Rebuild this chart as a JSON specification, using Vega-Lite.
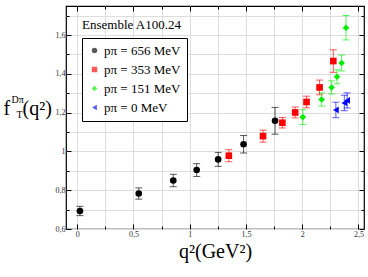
{
  "$schema": "https://vega.github.io/schema/vega-lite/v6.json",
  "width": 298,
  "height": 223,
  "autosize": "none",
  "padding": {"left": 66, "top": 6, "right": 4, "bottom": 48},
  "background": "white",
  "title": {"text": "Ensemble A100.24", "anchor": "start", "frame": "group", "font": "Liberation Serif", "fontSize": 13, "fontWeight": "normal", "color": "black", "dx": 16, "dy": 30},
  "data": {"values": [
    {"series": "pπ = 656 MeV", "q2": 0.024, "f": 0.693, "err": 0.024},
    {"series": "pπ = 656 MeV", "q2": 0.547, "f": 0.783, "err": 0.029},
    {"series": "pπ = 656 MeV", "q2": 0.854, "f": 0.85, "err": 0.032},
    {"series": "pπ = 656 MeV", "q2": 1.062, "f": 0.904, "err": 0.033},
    {"series": "pπ = 656 MeV", "q2": 1.253, "f": 0.959, "err": 0.036},
    {"series": "pπ = 656 MeV", "q2": 1.479, "f": 1.037, "err": 0.045},
    {"series": "pπ = 656 MeV", "q2": 1.759, "f": 1.158, "err": 0.069},
    {"series": "pπ = 353 MeV", "q2": 1.348, "f": 0.978, "err": 0.031},
    {"series": "pπ = 353 MeV", "q2": 1.652, "f": 1.079, "err": 0.031},
    {"series": "pπ = 353 MeV", "q2": 1.824, "f": 1.148, "err": 0.027},
    {"series": "pπ = 353 MeV", "q2": 1.938, "f": 1.201, "err": 0.028},
    {"series": "pπ = 353 MeV", "q2": 2.039, "f": 1.255, "err": 0.03},
    {"series": "pπ = 353 MeV", "q2": 2.155, "f": 1.33, "err": 0.038},
    {"series": "pπ = 353 MeV", "q2": 2.277, "f": 1.466, "err": 0.058},
    {"series": "pπ = 151 MeV", "q2": 2.006, "f": 1.177, "err": 0.038},
    {"series": "pπ = 151 MeV", "q2": 2.173, "f": 1.268, "err": 0.034},
    {"series": "pπ = 151 MeV", "q2": 2.262, "f": 1.33, "err": 0.034},
    {"series": "pπ = 151 MeV", "q2": 2.31, "f": 1.385, "err": 0.036},
    {"series": "pπ = 151 MeV", "q2": 2.351, "f": 1.456, "err": 0.041},
    {"series": "pπ = 151 MeV", "q2": 2.39, "f": 1.638, "err": 0.063},
    {"series": "pπ = 0 MeV", "q2": 2.3, "f": 1.214, "err": 0.04},
    {"series": "pπ = 0 MeV", "q2": 2.375, "f": 1.25, "err": 0.04},
    {"series": "pπ = 0 MeV", "q2": 2.4, "f": 1.263, "err": 0.039}
  ]},
  "layer": [
    {
      "mark": {"type": "errorbar", "ticks": {"size": 7, "opacity": 0.65}, "rule": {"opacity": 0.65}, "thickness": 1},
      "encoding": {
        "x": {"field": "q2", "type": "quantitative", "scale": {"domain": [-0.1, 2.55], "nice": false, "zero": false},
          "axis": {"orient": "bottom", "values": [0, 0.25, 0.5, 0.75, 1, 1.25, 1.5, 1.75, 2, 2.25, 2.5],
            "domain": false, "tickColor": "black", "tickSize": {"condition": {"test": "datum.value % 0.5 === 0", "value": -5}, "value": -3},
            "labelExpr": "datum.value % 0.5 === 0 ? replace(format(datum.value, '~g'), '.', ',') : ''",
            "labelFont": "Liberation Serif", "labelFontSize": 8, "labelColor": "#333", "labelPadding": 6,
            "title": "q²(GeV²)", "titleFont": "Liberation Serif", "titleFontSize": 20, "titleFontWeight": "normal", "titleColor": "black", "titlePadding": 3}},
        "y": {"field": "f", "type": "quantitative", "scale": {"domain": [0.6, 1.75], "nice": false, "zero": false},
          "axis": {"orient": "left", "values": [0.6, 0.7, 0.8, 0.9, 1, 1.1, 1.2, 1.3, 1.4, 1.5, 1.6, 1.7],
            "domain": false, "tickColor": "black", "tickSize": {"condition": {"test": "abs(round(datum.value*10)) % 2 === 0", "value": -5}, "value": -3},
            "labelExpr": "abs(round(datum.value*10)) % 2 === 0 ? replace(format(datum.value, '~g'), '.', ',') : ''",
            "labelFont": "Liberation Serif", "labelFontSize": 8, "labelColor": "#333", "labelPadding": 6,
            "title": "f", "titleAngle": 0, "titleAlign": "left", "titleBaseline": "alphabetic",
            "titleX": -63, "titleY": 108, "titleFont": "Liberation Serif", "titleFontSize": 20, "titleFontWeight": "normal", "titleColor": "black"}},
        "yError": {"field": "err"},
        "color": {"field": "series", "type": "nominal"}
      }
    },
    {
      "mark": {"type": "point", "filled": true, "opacity": 1},
      "encoding": {
        "x": {"field": "q2", "type": "quantitative",
          "axis": {"orient": "top", "values": [0, 0.25, 0.5, 0.75, 1, 1.25, 1.5, 1.75, 2, 2.25, 2.5], "domain": false, "labels": false, "title": null,
            "tickColor": "black", "tickSize": {"condition": {"test": "datum.value % 0.5 === 0", "value": -5}, "value": -3}}},
        "y": {"field": "f", "type": "quantitative",
          "axis": {"orient": "right", "values": [0.6, 0.7, 0.8, 0.9, 1, 1.1, 1.2, 1.3, 1.4, 1.5, 1.6, 1.7], "domain": false, "labels": false, "title": null,
            "tickColor": "black", "tickSize": {"condition": {"test": "abs(round(datum.value*10)) % 2 === 0", "value": -5}, "value": -3}}},
        "color": {"field": "series", "type": "nominal",
          "scale": {"domain": ["pπ = 656 MeV", "pπ = 353 MeV", "pπ = 151 MeV", "pπ = 0 MeV"], "range": ["#000000", "#ff0000", "#00ee00", "#0000ff"]},
          "legend": {"title": null, "orient": "none", "legendX": 16, "legendY": 32, "strokeColor": "black", "padding": 6, "fillColor": "white",
            "labelFont": "Liberation Serif", "labelFontSize": 13, "labelColor": "black", "rowPadding": 5, "labelOffset": 3, "symbolSize": 30, "symbolStrokeWidth": 0}},
        "shape": {"field": "series", "type": "nominal",
          "scale": {"domain": ["pπ = 656 MeV", "pπ = 353 MeV", "pπ = 151 MeV", "pπ = 0 MeV"], "range": ["circle", "square", "diamond", "triangle-left"]},
          "legend": {"title": null, "orient": "none", "legendX": 16, "legendY": 32}},
        "size": {"value": 44}
      }
    },
    {
      "mark": {"type": "point", "opacity": 0},
      "encoding": {
        "x": {"field": "q2", "type": "quantitative", "axis": null},
        "y": {"field": "f", "type": "quantitative",
          "axis": {"orient": "left", "domain": false, "labels": false, "ticks": false, "grid": false,
            "title": "Dπ", "titleAngle": 0, "titleAlign": "left", "titleBaseline": "alphabetic",
            "titleX": -55, "titleY": 96, "titleFont": "Liberation Serif", "titleFontSize": 10, "titleFontWeight": "normal", "titleColor": "black"}}
      }
    },
    {
      "mark": {"type": "point", "opacity": 0},
      "encoding": {
        "x": {"field": "q2", "type": "quantitative", "axis": null},
        "y": {"field": "f", "type": "quantitative",
          "axis": {"orient": "left", "domain": false, "labels": false, "ticks": false, "grid": false,
            "title": "T", "titleAngle": 0, "titleAlign": "left", "titleBaseline": "alphabetic",
            "titleX": -50, "titleY": 111, "titleFont": "Liberation Serif", "titleFontSize": 10, "titleFontWeight": "normal", "titleColor": "black"}}
      }
    },
    {
      "mark": {"type": "point", "opacity": 0},
      "encoding": {
        "x": {"field": "q2", "type": "quantitative", "axis": null},
        "y": {"field": "f", "type": "quantitative",
          "axis": {"orient": "left", "domain": false, "labels": false, "ticks": false, "grid": false,
            "title": "(q²)", "titleAngle": 0, "titleAlign": "left", "titleBaseline": "alphabetic",
            "titleX": -44, "titleY": 108, "titleFont": "Liberation Serif", "titleFontSize": 20, "titleFontWeight": "normal", "titleColor": "black"}}
      }
    }
  ],
  "resolve": {"axis": {"x": "independent", "y": "independent"}},
  "config": {"view": {"stroke": "black", "strokeWidth": 1.2}}
}
